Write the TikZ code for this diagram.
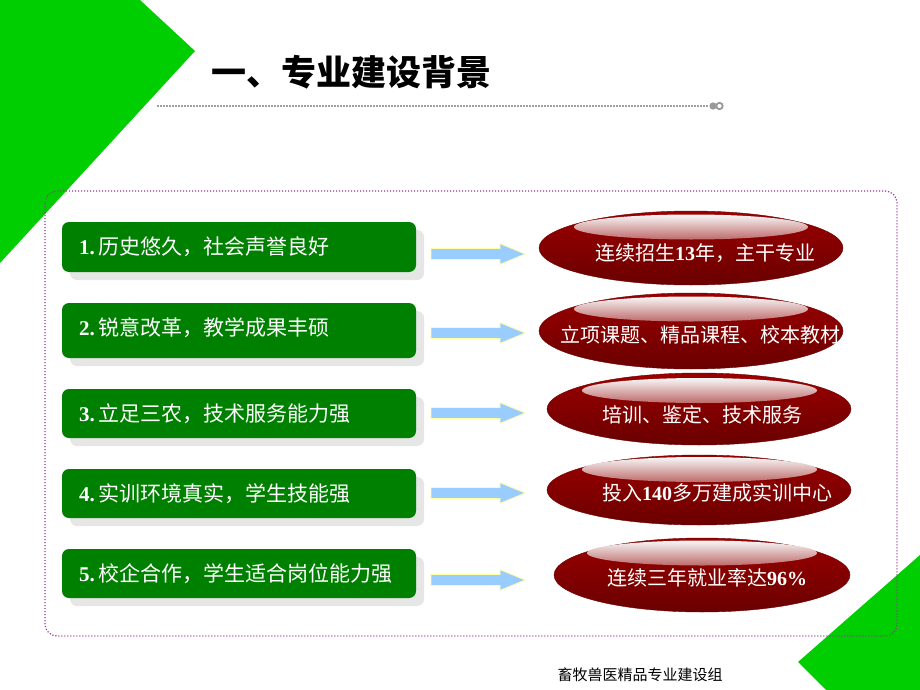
\documentclass[tikz,border=0pt]{standalone}
\usepackage{fontspec}
\setmainfont{Liberation Serif}
\newfontfamily\cjk{Noto Sans CJK SC}
\newfontfamily\lat{Liberation Serif}
\usetikzlibrary{shapes.geometric,shadows}
\definecolor{tgreen}{RGB}{0,206,0}
\definecolor{boxgreen}{RGB}{0,128,0}
\definecolor{shadowgray}{RGB}{230,230,230}
\definecolor{redtop}{RGB}{155,0,0}
\definecolor{redbot}{RGB}{106,0,0}
\definecolor{shinebot}{RGB}{190,105,105}
\definecolor{shinemid}{RGB}{232,210,210}
\definecolor{arrowblue}{RGB}{153,204,255}
\definecolor{arrowyellow}{RGB}{255,255,160}
\definecolor{framepurple}{RGB}{153,51,153}
\newcommand\dg[1]{{\lat\bfseries #1}}
\newcommand\barr[2]{%
  \coordinate (#1) at (431,#2);
  \filldraw[arrowsty] (#1) ++(0,-5.5) -- ++(69,0) -- ++(0,-4.8) -- ++(25,10.3)
    -- ++(-25,10.3) -- ++(0,-4.8) -- ++(-69,0) -- cycle;}
\begin{document}
\begin{tikzpicture}[x=1pt,y=-1pt,
  gbox/.style={rectangle, rounded corners=7pt, fill=boxgreen, minimum width=354pt, inner sep=0pt,
    drop shadow={shadow xshift=8pt, shadow yshift=-8pt, fill=shadowgray, opacity=1}},
  btext/.style={anchor=west, inner sep=0pt, text=white, font=\cjk\fontsize{21}{25}\selectfont},
  redell/.style={ellipse, inner sep=0pt, top color=redtop, bottom color=redbot,
    draw=redbot, line width=0.4pt},
  shine/.style={ellipse, inner sep=0pt, top color=white!97!black, middle color=shinemid,
    bottom color=shinebot, minimum height=25pt},
  etext/.style={text=white, font=\cjk\fontsize{20}{24}\selectfont, inner sep=0pt},
  arrowsty/.style={fill=arrowblue, draw=arrowyellow, line width=0.7pt, line join=miter},
  ttl/.style={font=\cjk\bfseries\fontsize{35}{40}\selectfont, text=black, inner sep=0pt},
  foot/.style={font=\cjk\fontsize{15}{18}\selectfont, text=black, inner sep=0pt}
]
\useasboundingbox (0,0) rectangle (920,690);
\fill[white] (0,0) rectangle (920,690);
% corner triangles
\fill[tgreen] (0,0) -- (140,0) -- (195,51) -- (0,263) -- cycle;
\fill[tgreen] (920,555) -- (798,662) -- (826,690) -- (920,690) -- cycle;
% title
\node[ttl] (title) at (351,72) {一、专业建设背景};
\draw[gray!75, line width=1.6pt, dash pattern=on 1.5pt off 1.5pt] (157,106) coordinate (l0) -- (708,106) coordinate (l1);
\fill[gray!80] (713,106) circle (3.6);
\draw[gray!80, line width=1.8pt] (719.5,106) circle (3.2);
% frame
\draw[framepurple, line width=1.2pt, dash pattern=on 1.2pt off 1.8pt, rounded corners=12pt]
  (45,191) rectangle (897,636);
% left boxes
\node[gbox, minimum height=50pt] (b1) at (239,247) {};
\node[gbox, minimum height=55pt] (b2) at (239,330.5) {};
\node[gbox, minimum height=49pt] (b3) at (239,413.5) {};
\node[gbox, minimum height=49pt] (b4) at (239,493.5) {};
\node[gbox, minimum height=49pt] (b5) at (239,573.5) {};
\node[btext] (bt1) at ([xshift=17pt]b1.west) {\dg{1.}\,历史悠久，社会声誉良好};
\node[btext] (bt2) at ([xshift=17pt,yshift=3pt]b2.west) {\dg{2.}\,锐意改革，教学成果丰硕};
\node[btext] (bt3) at ([xshift=17pt]b3.west) {\dg{3.}\,立足三农，技术服务能力强};
\node[btext] (bt4) at ([xshift=17pt]b4.west) {\dg{4.}\,实训环境真实，学生技能强};
\node[btext] (bt5) at ([xshift=17pt]b5.west) {\dg{5.}\,校企合作，学生适合岗位能力强};
% arrows
\barr{a1}{254}
\barr{a2}{333}
\barr{a3}{413}
\barr{a4}{493}
\barr{a5}{580}
% ellipses
\node[redell, minimum width=304pt, minimum height=74pt] (e1) at (691,248) {};
\node[shine, minimum width=234pt] (h1) at (691,227) {};
\node[etext] (t1) at (705,253) {连续招生\dg{13}年，主干专业};
\node[redell, minimum width=304pt, minimum height=76pt] (e2) at (691,331) {};
\node[shine, minimum width=234pt] (h2) at (691,309) {};
\node[etext] (t2) at (700,335) {立项课题、精品课程、校本教材};
\node[redell, minimum width=304pt, minimum height=72pt] (e3) at (699,409) {};
\node[shine, minimum width=235pt] (h3) at (699.5,390.5) {};
\node[etext] (t3) at (702,415) {培训、鉴定、技术服务};
\node[redell, minimum width=304pt, minimum height=70pt] (e4) at (699,490) {};
\node[shine, minimum width=235pt] (h4) at (699.5,469.5) {};
\node[etext] (t4) at (717,493) {投入\dg{140}多万建成实训中心};
\node[redell, minimum width=296pt, minimum height=74pt] (e5) at (702,575) {};
\node[shine, minimum width=230pt] (h5) at (702,553) {};
\node[etext] (t5) at (707,578) {连续三年就业率达\dg{96\%}};
% footer
\node[foot] (ft) at (640,675) {畜牧兽医精品专业建设组};
\end{tikzpicture}
\end{document}
